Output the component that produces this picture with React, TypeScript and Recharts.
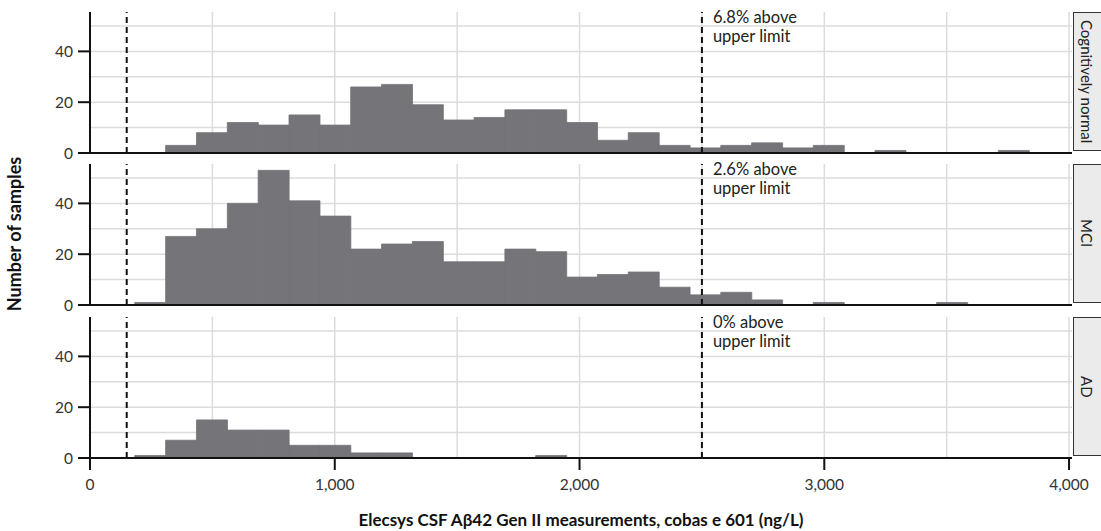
import React from 'react';
import { BarChart, Bar, XAxis, YAxis, CartesianGrid, ReferenceLine } from 'recharts';

// histogram bins (ng/L), bin midpoints, width ~126
const binMids = [
  246, 372, 498, 624, 750, 876, 1002, 1128, 1254, 1380,
  1506, 1632, 1758, 1884, 2010, 2136, 2262, 2388, 2514, 2640,
  2766, 2892, 3018, 3144, 3270, 3396, 3522, 3648, 3774, 3900,
];

const normalCounts = [
  0, 3, 8, 12, 11, 15, 11, 26, 27, 19,
  13, 14, 17, 17, 12, 5, 8, 3, 2, 3,
  4, 2, 3, 0, 1, 0, 0, 0, 1, 0,
];
const mciCounts = [
  1, 27, 30, 40, 53, 41, 35, 22, 24, 25,
  17, 17, 22, 21, 11, 12, 13, 7, 4, 5,
  2, 0, 1, 0, 0, 0, 1, 0, 0, 0,
];
const adCounts = [
  1, 7, 15, 11, 11, 5, 5, 2, 2, 0,
  0, 0, 0, 1, 0, 0, 0, 0, 0, 0,
  0, 0, 0, 0, 0, 0, 0, 0, 0, 0,
];

const xTicks = [0, 1000, 2000, 3000, 4000];
const yTicks = [0, 20, 40];
const gridX = [500, 1000, 1500, 2000, 2500, 3000, 3500, 4000];
const gridY = [10, 20, 30, 40, 50];
const lowerLimit = 150;
const upperLimit = 2500;

const panels = [
  { name: 'Cognitively normal', counts: normalCounts, pct: '6.8%' },
  { name: 'MCI', counts: mciCounts, pct: '2.6%' },
  { name: 'AD', counts: adCounts, pct: '0%' },
];

const FONT = "Lato, 'Liberation Sans', sans-serif";
const W = 1101;
const PLOT_H = 141;
const panelTops = [0, 152, 305];
const BAR = '#757479';

const LimitLabel = (props: any) => {
  const { viewBox, pct } = props;
  const x = viewBox.x + 11;
  const y = viewBox.y;
  return (
    <g fontFamily={FONT} fontSize={16.5} fill="#222">
      <text x={x} y={y + 10.5}>{pct} above</text>
      <text x={x} y={y + 30}>upper limit</text>
    </g>
  );
};

// top facets share the x axis, so no tick labels there
const NoTick = () => <g />;

function Panel({ idx }: { idx: number }) {
  const p = panels[idx];
  const last = idx === panels.length - 1;
  const rows = binMids.map((x, i) => ({ x, n: p.counts[i] }));
  const axisH = last ? 45 : 1;
  return (
    <div style={{ position: 'absolute', left: 0, top: panelTops[idx] }}>
      <BarChart
        width={W}
        height={12 + PLOT_H + axisH + 10}
        data={rows}
        margin={{ top: 12, right: 29, left: 0, bottom: 10 }}
        barCategoryGap={0}
        barGap={0}
      >
        <CartesianGrid
          stroke="#dcdcdc"
          strokeWidth={1.5}
          verticalValues={gridX}
          horizontalValues={gridY}
        />
        <XAxis
          type="number"
          dataKey="x"
          domain={[0, 4012]}
          ticks={xTicks}
          height={axisH}
          axisLine={{ stroke: '#111', strokeWidth: 2 }}
          tickLine={last ? { stroke: '#111', strokeWidth: 2 } : false}
          tick={last ? { fill: '#333', fontSize: 15.5, fontFamily: FONT } : <NoTick />}
          tickSize={12}
          tickMargin={9}
          tickFormatter={(v: number) => v.toLocaleString('en-US')}
        />
        <YAxis
          domain={[0, 55.5]}
          ticks={yTicks}
          width={90}
          axisLine={{ stroke: '#111', strokeWidth: 2 }}
          tickLine={{ stroke: '#111', strokeWidth: 2 }}
          tick={{ fill: '#333', fontSize: 15.5, fontFamily: FONT }}
          tickSize={12}
          tickMargin={5}
        />
        <Bar dataKey="n" fill={BAR} stroke={BAR} strokeWidth={0.8} isAnimationActive={false} />
        <ReferenceLine x={lowerLimit} stroke="#111" strokeWidth={2} strokeDasharray="6 4" />
        <ReferenceLine
          x={upperLimit}
          stroke="#111"
          strokeWidth={2}
          strokeDasharray="6 4"
          label={<LimitLabel pct={p.pct} />}
        />
      </BarChart>
      <div
        style={{
          position: 'absolute',
          left: 1073,
          top: 12,
          width: 34,
          height: PLOT_H - 2,
          background: '#ebebeb',
          border: '1.5px solid #333',
          display: 'flex',
          alignItems: 'center',
          justifyContent: 'center',
          boxSizing: 'border-box',
        }}
      >
        <span
          style={{
            writingMode: 'vertical-rl',
            fontFamily: FONT,
            fontSize: 15,
            color: '#222',
            marginRight: 6,
          }}
        >
          {p.name}
        </span>
      </div>
    </div>
  );
}

export default function App() {
  return (
    <div
      style={{
        position: 'absolute',
        left: 0,
        top: 0,
        width: W,
        height: 531,
        overflow: 'hidden',
        background: '#fff',
        fontFamily: FONT,
      }}
    >
      {panels.map((_, i) => (
        <Panel key={i} idx={i} />
      ))}
      <div
        style={{
          position: 'absolute',
          left: 14,
          top: 234,
          transform: 'translate(-50%, -50%) rotate(-90deg)',
          whiteSpace: 'nowrap',
          fontSize: 18,
          fontWeight: 700,
          color: '#111',
        }}
      >
        Number of samples
      </div>
      <div
        style={{
          position: 'absolute',
          left: 581,
          top: 519,
          transform: 'translate(-50%, -50%)',
          whiteSpace: 'nowrap',
          fontSize: 17,
          fontWeight: 700,
          color: '#111',
        }}
      >
        Elecsys CSF Aβ42 Gen II measurements, cobas e 601 (ng/L)
      </div>
    </div>
  );
}
